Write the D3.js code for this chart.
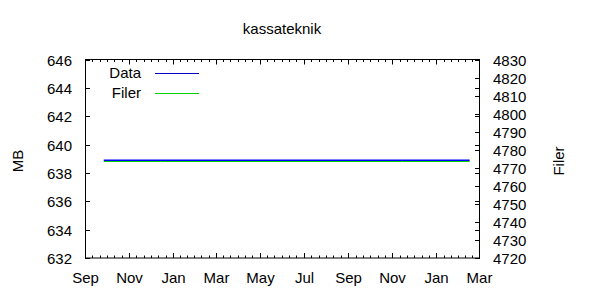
<!DOCTYPE html>
<meta charset="utf-8">
<style>
  body { margin: 0; background: #fff; }
  text { font-family: "Liberation Sans", Arial, sans-serif; font-size: 15px; fill: #000; }
</style>
<body>
<svg width="600" height="300"></svg>
<script src="https://d3js.org/d3.v7.min.js"></script>
<script>

// data
var dates = ['2008-09-27', '2008-12-15', '2009-04-01', '2009-08-01', '2009-11-15', '2010-02-16'];
var mb    = [638.9, 638.9, 638.9, 638.9, 638.9, 638.9];
var filer = [4774, 4774, 4774, 4774, 4774, 4774];
var seriesNames = ['Data', 'Filer'];
var yTicks  = [632, 634, 636, 638, 640, 642, 644, 646];
var y2Ticks = [4720, 4730, 4740, 4750, 4760, 4770, 4780, 4790, 4800, 4810, 4820, 4830];

var parse = d3.timeParse('%Y-%m-%d');
var svg = d3.select('svg');

var pLeft = 85, pRight = 479, pTop = 59.5, pBottom = 258;

var x = d3.scaleTime()
  .domain([parse('2008-09-01'), parse('2010-03-01')])
  .range([pLeft, pRight]);
var y = d3.scaleLinear().domain([632, 646]).range([pBottom, pTop]);
var y2 = d3.scaleLinear().domain([4720, 4830]).range([pBottom, pTop]);

// title
svg.append('text')
  .attr('x', (pLeft + pRight) / 2).attr('y', 34)
  .attr('text-anchor', 'middle')
  .text('kassateknik');

// axis labels
svg.append('text')
  .attr('transform', 'translate(23,161) rotate(-90)')
  .attr('text-anchor', 'middle')
  .text('MB');
svg.append('text')
  .attr('transform', 'translate(564,161) rotate(-90)')
  .attr('text-anchor', 'middle')
  .text('Filer');

var ax = svg.append('g').attr('stroke', '#000').attr('stroke-width', 1).attr('fill', 'none');

// border
ax.append('rect')
  .attr('x', pLeft + 0.5).attr('y', pTop)
  .attr('width', pRight - pLeft).attr('height', pBottom - pTop);

// y ticks (left, mirrored right)
yTicks.forEach(function(v) {
  var py = Math.round(y(v)) + 0.5;
  ax.append('line').attr('x1', pLeft).attr('x2', pLeft + 5).attr('y1', py).attr('y2', py);
  ax.append('line').attr('x1', pRight - 4).attr('x2', pRight + 1).attr('y1', py).attr('y2', py);
  svg.append('text')
    .attr('x', 72).attr('y', py).attr('dy', '0.35em')
    .attr('text-anchor', 'end')
    .text(v);
});

// y2 ticks (right)
y2Ticks.forEach(function(v) {
  var py = Math.round(y2(v)) + 0.5;
  ax.append('line').attr('x1', pRight - 4).attr('x2', pRight + 1).attr('y1', py).attr('y2', py);
  svg.append('text')
    .attr('x', 493).attr('y', py).attr('dy', '0.35em')
    .text(v);
});

// x ticks: major every 2 months, minor in between
var majors = d3.timeMonth.every(2).range(parse('2008-09-01'), parse('2010-03-02'));
majors.forEach(function(d, i) {
  var px = Math.round(x(d)) + 0.5;
  ax.append('line').attr('x1', px).attr('x2', px).attr('y1', pBottom).attr('y2', pBottom - 5);
  ax.append('line').attr('x1', px).attr('x2', px).attr('y1', pTop).attr('y2', pTop + 5);
  svg.append('text')
    .attr('x', px).attr('y', 283)
    .attr('text-anchor', 'middle')
    .text(d3.timeFormat('%b')(d));
  if (i < majors.length - 1) {
    var t0 = +d, t1 = +majors[i + 1];
    for (var k = 1; k < 6; k++) {
      var mx = Math.round(x(new Date(t0 + (t1 - t0) * k / 6))) + 0.5;
      ax.append('line').attr('x1', mx).attr('x2', mx).attr('y1', pBottom).attr('y2', pBottom - 2.5);
      ax.append('line').attr('x1', mx).attr('x2', mx).attr('y1', pTop).attr('y2', pTop + 2.5);
    }
  }
});

var rows = dates.map(function(d, i) { return { date: parse(d), mb: mb[i], filer: filer[i] }; });

// Filer line (green, y2 axis)
svg.append('path')
  .datum(rows)
  .attr('fill', 'none')
  .attr('stroke', '#00d000')
  .attr('stroke-width', 1)
  .attr('d', d3.line().x(function(d) { return x(d.date); }).y(function(d) { return Math.round(y2(d.filer)) + 0.5; }));

// Data line (blue, MB axis)
svg.append('path')
  .datum(rows)
  .attr('fill', 'none')
  .attr('stroke', '#0000ff')
  .attr('stroke-width', 1.5)
  .attr('d', d3.line().x(function(d) { return x(d.date); }).y(function(d) { return Math.round(y(d.mb)) + 0.25; }));

// legend
var legColors = ['#0000c0', '#00d000'];
seriesNames.forEach(function(name, i) {
  var ly = 73 + i * 20;
  svg.append('text')
    .attr('x', 141).attr('y', ly).attr('dy', '0.35em')
    .attr('text-anchor', 'end')
    .text(name);
  svg.append('line')
    .attr('x1', 155).attr('x2', 199)
    .attr('y1', ly + 0.5).attr('y2', ly + 0.5)
    .attr('stroke', legColors[i]).attr('stroke-width', 1);
});

</script>
